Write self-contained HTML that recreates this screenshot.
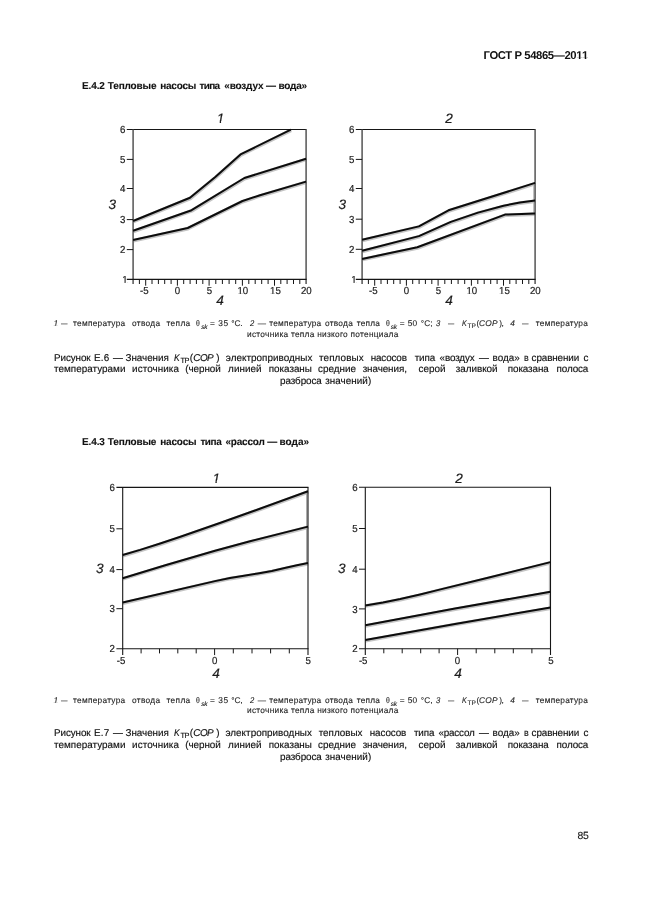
<!DOCTYPE html>
<html lang="ru">
<head>
<meta charset="utf-8">
<title>ГОСТ Р 54865—2011</title>
<style>
html,body{margin:0;padding:0;background:#fff;}
body{width:646px;height:913px;position:relative;overflow:hidden;font-family:"Liberation Sans",Arial,sans-serif;color:#1c1c1c;text-rendering:geometricPrecision;}
.ln{position:absolute;left:0;width:646px;margin:0;white-space:pre;}
.ln span{display:inline-block;white-space:pre;vertical-align:baseline;}
.hdr{font-weight:bold;font-size:11.3px;line-height:13px;height:13px;color:#111;}
.h2{font-weight:bold;font-size:10.0px;line-height:12px;height:12px;color:#111;-webkit-text-stroke:0.1px #111;}
.leg{font-size:8.3px;line-height:10.5px;height:10.5px;color:#222;-webkit-text-stroke:0.1px #222;}
.cap{font-size:9.9px;line-height:11.5px;height:11.5px;color:#111;-webkit-text-stroke:0.15px #111;}
.pn{font-size:10.4px;line-height:12px;height:12px;color:#1a1a1a;-webkit-text-stroke:0.12px #1a1a1a;}
.i{font-style:italic;}
.d{color:#6a6a6a;-webkit-text-stroke-color:#6a6a6a;}
.ln span.o{display:inline-block;}
svg{position:absolute;left:0;top:0;overflow:visible;}
svg text{font-family:"Liberation Sans",Arial,sans-serif;fill:#1c1c1c;text-rendering:geometricPrecision;}
.tk{font-size:10.2px;stroke:#1c1c1c;stroke-width:0.2px;}
.ax{font-size:13.6px;font-style:italic;stroke:#1c1c1c;stroke-width:0.2px;}
</style>
</head>
<body>
<div class="ln hdr" style="top:50px;"><span style="margin-left:483.60px;letter-spacing:-0.418px;">ГОСТ Р 54865—20<span class="o" style="clip-path:polygon(-1.00px -2.00px,22.60px -2.00px,22.60px 7.80px,4.19px 7.80px,4.19px 20.00px,2.64px 20.00px,2.64px 7.80px,-1.00px 7.80px);">1</span><span class="o" style="clip-path:polygon(-1.00px -2.00px,22.60px -2.00px,22.60px 7.80px,4.19px 7.80px,4.19px 20.00px,2.64px 20.00px,2.64px 7.80px,-1.00px 7.80px);">1</span></span></div>
<div class="ln h2" style="top:81px;"><span style="margin-left:82.00px;width:25.80px;letter-spacing:-0.112px;">Е.4.2 </span><span style="width:52.40px;letter-spacing:-0.156px;">Тепловые </span><span style="width:39.30px;letter-spacing:-0.228px;">насосы </span><span style="width:24.80px;letter-spacing:-0.670px;">типа </span><span style="width:41.80px;letter-spacing:-0.173px;">«воздух </span><span style="width:12.40px;">— </span><span style="letter-spacing:-0.191px;">вода»</span></div>
<div class="ln leg" style="top:318px;"><span class="i" style="margin-left:53.43px;width:7.97px;clip-path:polygon(-1.00px -2.00px,16.60px -2.00px,16.60px 7.34px,2.47px 7.34px,2.49px 20.00px,1.58px 20.00px,1.84px 7.34px,-1.00px 7.34px);">1 </span><span class="d" style="width:11.70px;transform:scaleX(0.783);transform-origin:0 0;">— </span><span style="width:59.00px;letter-spacing:0.272px;">температура </span><span style="width:34.50px;letter-spacing:0.310px;">отвода </span><span style="width:29.60px;letter-spacing:0.330px;">тепла </span><span style="width:5.00px;transform:scaleX(0.823);transform-origin:0 0;">θ</span><span class="i" style="width:6.60px;position:relative;top:3px;font-size:6.6px;letter-spacing:-0.277px;">sk</span><span style="width:10.50px;"> = </span><span style="width:13.00px;letter-spacing:0.566px;">35 </span><span style="width:18.55px;letter-spacing:-0.110px;">°С. </span><span class="i" style="width:7.95px;transform:scaleX(0.922);transform-origin:0 0;">2 </span><span class="d" style="width:11.50px;">— </span><span style="width:55.70px;letter-spacing:0.262px;">температура </span><span style="width:31.80px;letter-spacing:0.290px;">отвода </span><span style="width:29.00px;letter-spacing:0.230px;">тепла </span><span style="width:5.00px;transform:scaleX(0.823);transform-origin:0 0;">θ</span><span class="i" style="width:6.80px;position:relative;top:3px;font-size:6.6px;letter-spacing:-0.277px;">sk</span><span style="width:10.20px;"> = </span><span style="width:13.00px;letter-spacing:0.266px;">50 </span><span style="width:15.60px;letter-spacing:0.140px;">°С; </span><span class="i" style="width:11.50px;transform:scaleX(0.932);transform-origin:0 0;">3 </span><span class="d" style="width:14.30px;transform:scaleX(0.747);transform-origin:0 0;">— </span><span class="i" style="width:5.40px;transform:scaleX(0.856);transform-origin:0 0;">K</span><span style="width:8.90px;position:relative;top:2px;font-size:6.5px;letter-spacing:0.093px;">ТР</span><span style="width:2.70px;">(</span><span class="i" style="width:20.20px;letter-spacing:0.207px;">COP</span><span style="width:11.00px;letter-spacing:-0.471px;">), </span><span class="i" style="width:11.50px;">4 </span><span class="d" style="width:14.10px;transform:scaleX(0.783);transform-origin:0 0;">— </span><span style="letter-spacing:0.262px;">температура</span></div>
<div class="ln leg" style="top:329px;"><span style="margin-left:247.00px;letter-spacing:0.278px;">источника тепла низкого потенциала</span></div>
<div class="ln cap" style="top:353px;"><span style="margin-left:54.00px;width:39.90px;letter-spacing:-0.098px;">Рисунок </span><span style="width:19.10px;letter-spacing:0.320px;">Е.6 </span><span style="width:12.60px;">— </span><span style="width:48.60px;letter-spacing:-0.065px;">Значения </span><span class="i" style="width:6.30px;transform:scaleX(0.861);transform-origin:0 0;">K</span><span style="width:9.30px;position:relative;top:2px;font-size:7.4px;letter-spacing:-0.400px;">ТР</span><span style="width:3.60px;">(</span><span class="i" style="width:22.80px;letter-spacing:-0.527px;">COP</span><span style="width:9.70px;">) </span><span style="width:93.20px;letter-spacing:0.030px;">электроприводных </span><span style="width:51.60px;letter-spacing:0.099px;">тепловых </span><span style="width:44.00px;letter-spacing:-0.161px;">насосов </span><span style="width:24.90px;letter-spacing:-0.111px;">типа </span><span style="width:39.40px;letter-spacing:-0.124px;">«воздух </span><span style="width:13.70px;">— </span><span style="width:31.00px;letter-spacing:-0.031px;">вода» </span><span style="width:8.00px;transform:scaleX(0.893);transform-origin:0 0;">в </span><span style="width:52.00px;letter-spacing:-0.128px;">сравнении </span><span style="">с</span></div>
<div class="ln cap" style="top:364px;"><span style="margin-left:54.10px;width:78.00px;letter-spacing:0.022px;">температурами </span><span style="width:53.20px;letter-spacing:0.074px;">источника </span><span style="width:42.80px;letter-spacing:-0.062px;">(черной </span><span style="width:40.70px;letter-spacing:0.052px;">линией </span><span style="width:49.20px;letter-spacing:-0.034px;">показаны </span><span style="width:44.70px;letter-spacing:0.029px;">средние </span><span style="width:55.90px;letter-spacing:-0.084px;">значения, </span><span style="width:37.30px;letter-spacing:0.026px;">серой </span><span style="width:51.90px;letter-spacing:-0.041px;">заливкой </span><span style="width:48.80px;letter-spacing:-0.090px;">показана </span><span style="letter-spacing:-0.120px;">полоса</span></div>
<div class="ln cap" style="top:376px;"><span style="margin-left:280.10px;width:45.20px;letter-spacing:-0.096px;">разброса </span><span style="letter-spacing:0.027px;">значений)</span></div>
<div class="ln h2" style="top:437px;"><span style="margin-left:82.00px;width:25.80px;letter-spacing:-0.112px;">Е.4.3 </span><span style="width:52.40px;letter-spacing:-0.170px;">Тепловые </span><span style="width:40.20px;letter-spacing:-0.168px;">насосы </span><span style="width:25.00px;letter-spacing:-0.437px;">типа </span><span style="width:41.80px;letter-spacing:-0.194px;">«рассол </span><span style="width:12.40px;">— </span><span style="letter-spacing:0.034px;">вода»</span></div>
<div class="ln leg" style="top:695px;"><span class="i" style="margin-left:53.43px;width:7.97px;clip-path:polygon(-1.00px -2.00px,16.60px -2.00px,16.60px 7.34px,2.47px 7.34px,2.49px 20.00px,1.58px 20.00px,1.84px 7.34px,-1.00px 7.34px);">1 </span><span class="d" style="width:11.70px;transform:scaleX(0.783);transform-origin:0 0;">— </span><span style="width:59.00px;letter-spacing:0.272px;">температура </span><span style="width:34.50px;letter-spacing:0.310px;">отвода </span><span style="width:29.60px;letter-spacing:0.330px;">тепла </span><span style="width:5.00px;transform:scaleX(0.823);transform-origin:0 0;">θ</span><span class="i" style="width:6.60px;position:relative;top:3px;font-size:6.6px;letter-spacing:-0.277px;">sk</span><span style="width:10.50px;"> = </span><span style="width:13.00px;letter-spacing:0.566px;">35 </span><span style="width:18.55px;letter-spacing:-0.110px;">°С, </span><span class="i" style="width:7.95px;transform:scaleX(0.922);transform-origin:0 0;">2 </span><span class="d" style="width:11.50px;">— </span><span style="width:55.70px;letter-spacing:0.262px;">температура </span><span style="width:31.80px;letter-spacing:0.290px;">отвода </span><span style="width:29.00px;letter-spacing:0.230px;">тепла </span><span style="width:5.00px;transform:scaleX(0.823);transform-origin:0 0;">θ</span><span class="i" style="width:6.80px;position:relative;top:3px;font-size:6.6px;letter-spacing:-0.277px;">sk</span><span style="width:10.20px;"> = </span><span style="width:13.00px;letter-spacing:0.266px;">50 </span><span style="width:15.60px;letter-spacing:0.140px;">°С, </span><span class="i" style="width:11.50px;transform:scaleX(0.932);transform-origin:0 0;">3 </span><span class="d" style="width:14.30px;transform:scaleX(0.747);transform-origin:0 0;">— </span><span class="i" style="width:5.40px;transform:scaleX(0.856);transform-origin:0 0;">K</span><span style="width:8.90px;position:relative;top:2px;font-size:6.5px;letter-spacing:0.093px;">ТР</span><span style="width:2.70px;">(</span><span class="i" style="width:20.20px;letter-spacing:0.207px;">COP</span><span style="width:11.00px;letter-spacing:-0.471px;">), </span><span class="i" style="width:11.50px;">4 </span><span class="d" style="width:14.10px;transform:scaleX(0.783);transform-origin:0 0;">— </span><span style="letter-spacing:0.262px;">температура</span></div>
<div class="ln leg" style="top:705px;"><span style="margin-left:247.00px;letter-spacing:0.278px;">источника тепла низкого потенциала</span></div>
<div class="ln cap" style="top:728px;"><span style="margin-left:54.00px;width:39.90px;letter-spacing:-0.098px;">Рисунок </span><span style="width:19.10px;letter-spacing:0.320px;">Е.7 </span><span style="width:12.60px;">— </span><span style="width:48.60px;letter-spacing:-0.065px;">Значения </span><span class="i" style="width:6.30px;transform:scaleX(0.861);transform-origin:0 0;">K</span><span style="width:9.30px;position:relative;top:2px;font-size:7.4px;letter-spacing:-0.400px;">ТР</span><span style="width:3.60px;">(</span><span class="i" style="width:22.80px;letter-spacing:-0.527px;">COP</span><span style="width:9.30px;">) </span><span style="width:93.20px;letter-spacing:0.030px;">электроприводных </span><span style="width:51.10px;">тепловых </span><span style="width:44.20px;letter-spacing:-0.111px;">насосов </span><span style="width:24.50px;letter-spacing:-0.111px;">типа </span><span style="width:40.50px;letter-spacing:-0.199px;">«рассол </span><span style="width:13.70px;">— </span><span style="width:31.00px;letter-spacing:-0.031px;">вода» </span><span style="width:8.00px;transform:scaleX(0.893);transform-origin:0 0;">в </span><span style="width:52.00px;letter-spacing:-0.128px;">сравнении </span><span style="">с</span></div>
<div class="ln cap" style="top:740px;"><span style="margin-left:54.10px;width:78.00px;letter-spacing:0.022px;">температурами </span><span style="width:53.20px;letter-spacing:0.074px;">источника </span><span style="width:42.80px;letter-spacing:-0.062px;">(черной </span><span style="width:40.70px;letter-spacing:0.052px;">линией </span><span style="width:49.20px;letter-spacing:-0.034px;">показаны </span><span style="width:44.70px;letter-spacing:0.029px;">средние </span><span style="width:55.90px;letter-spacing:-0.084px;">значения, </span><span style="width:37.30px;letter-spacing:0.026px;">серой </span><span style="width:51.90px;letter-spacing:-0.041px;">заливкой </span><span style="width:48.80px;letter-spacing:-0.090px;">показана </span><span style="letter-spacing:-0.120px;">полоса</span></div>
<div class="ln cap" style="top:752px;"><span style="margin-left:280.10px;width:45.20px;letter-spacing:-0.096px;">разброса </span><span style="letter-spacing:0.027px;">значений)</span></div>
<div class="ln pn" style="top:831px;"><span style="margin-left:577.60px;letter-spacing:-0.270px;">85</span></div>
<svg id="charts" width="646" height="913" viewBox="0 0 646 913">
<defs><clipPath id="c1i" clipPathUnits="userSpaceOnUse"><polygon points="-2.0,-27.2 54.4,-27.2 54.4,13.6 7.6,13.6 7.6,-1.4 4.3,-1.4 4.2,13.6 2.4,13.6 3.0,-1.4 -2.0,-1.4"/></clipPath><clipPath id="c1r" clipPathUnits="userSpaceOnUse"><polygon points="-2.0,-20.4 40.8,-20.4 40.8,10.2 5.7,10.2 5.7,-1.1 3.6,-1.1 3.6,10.2 2.4,10.2 2.4,-1.1 -2.0,-1.1"/></clipPath></defs>
<polyline points="133.3,221.7 190.2,198.5 215.5,177.6 240.7,155.1 291.1,130.3" fill="none" stroke="#c4c4c4" stroke-width="3.6" stroke-linejoin="round"/>
<polyline points="133.3,231.5 191.8,210.9 244.6,178.7 306.3,159.4" fill="none" stroke="#c4c4c4" stroke-width="3.6" stroke-linejoin="round"/>
<polyline points="133.3,240.8 187.9,228.7 242.7,201.7 260.2,195.9 306.3,182.3" fill="none" stroke="#c4c4c4" stroke-width="3.6" stroke-linejoin="round"/>

<path d="M126.8 129.5H306.6" stroke="#161616" stroke-width="1.1" fill="none"/>
<path d="M133.1 129.5V284.0M306.1 129.5V284.0" stroke="#555" stroke-width="1.5" fill="none"/>
<path d="M126.8 279.4H306.6" stroke="#161616" stroke-width="1.1" fill="none"/>
<path d="M126.8 249.6H133.1M126.8 219.6H133.1M126.8 188.5H133.1M126.8 159.4H133.1" stroke="#161616" stroke-width="1" fill="none"/>
<text class="tk" transform="translate(122.21,283.0) scale(0.95,1)" clip-path="url(#c1r)">1</text>
<text class="tk" transform="translate(119.91,253.2) scale(0.95,1)">2</text>
<text class="tk" transform="translate(119.91,223.2) scale(0.95,1)">3</text>
<text class="tk" transform="translate(119.91,192.1) scale(0.95,1)">4</text>
<text class="tk" transform="translate(119.91,163.0) scale(0.95,1)">5</text>
<text class="tk" transform="translate(119.91,133.1) scale(0.95,1)">6</text>
<path d="M139.4 279.4v4.6M145.7 279.4v6.3M152.0 279.4v4.6M158.4 279.4v4.6M164.7 279.4v4.6M171.1 279.4v4.6M177.4 279.4v6.3M183.7 279.4v4.6M190.1 279.4v4.6M196.4 279.4v4.6M202.8 279.4v4.6M209.1 279.4v6.3M215.8 279.4v4.6M222.4 279.4v4.6M229.1 279.4v4.6M235.7 279.4v4.6M242.4 279.4v6.3M248.8 279.4v4.6M255.2 279.4v4.6M261.7 279.4v4.6M268.1 279.4v4.6M274.5 279.4v6.3M280.8 279.4v4.6M287.1 279.4v4.6M293.5 279.4v4.6M299.8 279.4v4.6" stroke="#161616" stroke-width="1" fill="none"/>
<text class="tk" transform="translate(139.99,294.3) scale(0.95,1)">-5</text>
<text class="tk" transform="translate(174.81,294.3) scale(0.95,1)">0</text>
<text class="tk" transform="translate(206.81,294.3) scale(0.95,1)">5</text>
<text class="tk" transform="translate(237.41,294.3) scale(0.95,1)" clip-path="url(#c1r)">10</text>
<text class="tk" transform="translate(270.01,294.3) scale(0.95,1)" clip-path="url(#c1r)">15</text>
<text class="tk" transform="translate(300.91,294.3) scale(0.95,1)">20</text>
<polyline points="133.1,221.0 190.0,197.8 215.3,176.9 240.5,154.4 290.9,129.6" fill="none" stroke="#0c0c0c" stroke-width="2" stroke-linejoin="round"/>
<polyline points="133.1,230.8 191.6,210.2 244.4,178.0 306.1,158.7" fill="none" stroke="#0c0c0c" stroke-width="2" stroke-linejoin="round"/>
<polyline points="133.1,240.1 187.7,228.0 242.5,201.0 260.0,195.2 306.1,181.6" fill="none" stroke="#0c0c0c" stroke-width="2" stroke-linejoin="round"/>
<text class="ax" transform="translate(216.76,123.0)" clip-path="url(#c1i)">1</text>
<text class="ax" transform="translate(108.62,209.2)">3</text>
<text class="ax" transform="translate(216.32,305.0)">4</text>
<polyline points="362.3,240.5 419.1,227.1 448.7,211.0 535.3,183.6" fill="none" stroke="#c4c4c4" stroke-width="3.6" stroke-linejoin="round"/>
<polyline points="362.3,251.4 419.1,236.8 451.0,222.6 478.2,213.3 503.7,206.4 520.2,203.1 535.3,201.3" fill="none" stroke="#c4c4c4" stroke-width="3.6" stroke-linejoin="round"/>
<polyline points="362.3,259.6 417.5,248.0 505.2,215.3 535.3,214.1" fill="none" stroke="#c4c4c4" stroke-width="3.6" stroke-linejoin="round"/>
<path d="M533.8 184V213" stroke="#bbb" stroke-width="1.4"/>
<path d="M355.8 129.5H535.6" stroke="#161616" stroke-width="1.1" fill="none"/>
<path d="M362.1 129.5V284.0M535.1 129.5V284.0" stroke="#555" stroke-width="1.5" fill="none"/>
<path d="M355.8 279.4H535.6" stroke="#161616" stroke-width="1.1" fill="none"/>
<path d="M355.8 249.3H362.1M355.8 219.2H362.1M355.8 188.5H362.1M355.8 159.4H362.1" stroke="#161616" stroke-width="1" fill="none"/>
<text class="tk" transform="translate(351.21,283.0) scale(0.95,1)" clip-path="url(#c1r)">1</text>
<text class="tk" transform="translate(348.91,252.9) scale(0.95,1)">2</text>
<text class="tk" transform="translate(348.91,222.8) scale(0.95,1)">3</text>
<text class="tk" transform="translate(348.91,192.1) scale(0.95,1)">4</text>
<text class="tk" transform="translate(348.91,163.0) scale(0.95,1)">5</text>
<text class="tk" transform="translate(348.91,133.1) scale(0.95,1)">6</text>
<path d="M368.4 279.4v4.6M374.7 279.4v6.3M381.0 279.4v4.6M387.4 279.4v4.6M393.7 279.4v4.6M400.1 279.4v4.6M406.4 279.4v6.3M412.7 279.4v4.6M419.1 279.4v4.6M425.4 279.4v4.6M431.8 279.4v4.6M438.1 279.4v6.3M444.8 279.4v4.6M451.4 279.4v4.6M458.1 279.4v4.6M464.7 279.4v4.6M471.4 279.4v6.3M477.8 279.4v4.6M484.2 279.4v4.6M490.7 279.4v4.6M497.1 279.4v4.6M503.5 279.4v6.3M509.8 279.4v4.6M516.1 279.4v4.6M522.5 279.4v4.6M528.8 279.4v4.6" stroke="#161616" stroke-width="1" fill="none"/>
<text class="tk" transform="translate(368.99,294.3) scale(0.95,1)">-5</text>
<text class="tk" transform="translate(403.81,294.3) scale(0.95,1)">0</text>
<text class="tk" transform="translate(435.81,294.3) scale(0.95,1)">5</text>
<text class="tk" transform="translate(466.41,294.3) scale(0.95,1)" clip-path="url(#c1r)">10</text>
<text class="tk" transform="translate(499.01,294.3) scale(0.95,1)" clip-path="url(#c1r)">15</text>
<text class="tk" transform="translate(529.91,294.3) scale(0.95,1)">20</text>
<polyline points="362.1,239.8 418.9,226.4 448.5,210.3 535.1,182.9" fill="none" stroke="#0c0c0c" stroke-width="2" stroke-linejoin="round"/>
<polyline points="362.1,250.7 418.9,236.1 450.8,221.9 478.0,212.6 503.5,205.7 520.0,202.4 535.1,200.6" fill="none" stroke="#0c0c0c" stroke-width="2" stroke-linejoin="round"/>
<polyline points="362.1,258.9 417.3,247.3 505.0,214.6 535.1,213.4" fill="none" stroke="#0c0c0c" stroke-width="2" stroke-linejoin="round"/>
<text class="ax" transform="translate(445.26,123.0)">2</text>
<text class="ax" transform="translate(338.62,209.2)">3</text>
<text class="ax" transform="translate(445.22,305.0)">4</text>
<polyline points="122.9,555.7 140.3,550.6 160.4,544.2 180.6,537.5 200.7,530.5 220.8,523.4 250.2,513.0 308.2,492.0" fill="none" stroke="#c4c4c4" stroke-width="3.6" stroke-linejoin="round"/>
<polyline points="122.9,578.9 165.5,565.9 215.2,551.5 250.2,542.0 308.2,527.3" fill="none" stroke="#c4c4c4" stroke-width="3.6" stroke-linejoin="round"/>
<polyline points="122.9,603.2 215.2,581.8 230.2,578.6 244.1,576.5 258.1,574.1 272.0,571.6 285.9,568.5 297.1,566.0 308.2,563.8" fill="none" stroke="#c4c4c4" stroke-width="3.6" stroke-linejoin="round"/>
<path d="M306.8 491V563.5" stroke="#a4a4a4" stroke-width="1.4"/>
<path d="M116.4 487.4H308.5" stroke="#161616" stroke-width="1.1" fill="none"/>
<path d="M122.7 487.4V655.1M308.0 487.4V655.1" stroke="#161616" stroke-width="1.1" fill="none"/>
<path d="M116.4 648.8H308.5" stroke="#161616" stroke-width="1.1" fill="none"/>
<path d="M116.4 608.7H122.7M116.4 569.6H122.7M116.4 528.8H122.7" stroke="#161616" stroke-width="1" fill="none"/>
<text class="tk" transform="translate(109.61,652.4) scale(0.95,1)">2</text>
<text class="tk" transform="translate(109.61,612.3) scale(0.95,1)">3</text>
<text class="tk" transform="translate(109.61,573.2) scale(0.95,1)">4</text>
<text class="tk" transform="translate(109.61,532.4) scale(0.95,1)">5</text>
<text class="tk" transform="translate(109.61,491.0) scale(0.95,1)">6</text>
<path d="M141.1 648.8v4.6M159.5 648.8v4.6M177.8 648.8v4.6M196.2 648.8v4.6M214.6 648.8v6.3M233.3 648.8v4.6M252.0 648.8v4.6M270.6 648.8v4.6M289.3 648.8v4.6" stroke="#161616" stroke-width="1" fill="none"/>
<text class="tk" transform="translate(116.69,663.9) scale(0.95,1)">-5</text>
<text class="tk" transform="translate(212.11,663.9) scale(0.95,1)">0</text>
<text class="tk" transform="translate(305.61,663.9) scale(0.95,1)">5</text>
<polyline points="122.7,555.0 140.1,549.9 160.2,543.5 180.4,536.8 200.5,529.8 220.6,522.7 250.0,512.3 308.0,491.3" fill="none" stroke="#0c0c0c" stroke-width="2" stroke-linejoin="round"/>
<polyline points="122.7,578.2 165.3,565.2 215.0,550.8 250.0,541.3 308.0,526.6" fill="none" stroke="#0c0c0c" stroke-width="2" stroke-linejoin="round"/>
<polyline points="122.7,602.5 215.0,581.1 230.0,577.9 243.9,575.8 257.9,573.4 271.8,570.9 285.7,567.8 296.9,565.3 308.0,563.1" fill="none" stroke="#0c0c0c" stroke-width="2" stroke-linejoin="round"/>
<text class="ax" transform="translate(212.46,483.0)" clip-path="url(#c1i)">1</text>
<text class="ax" transform="translate(96.12,573.0)">3</text>
<text class="ax" transform="translate(212.32,678.0)">4</text>
<polyline points="365.5,606.1 383.2,603.1 400.4,599.7 420.2,595.2 440.7,590.1 490.2,578.0 550.7,562.8" fill="none" stroke="#c4c4c4" stroke-width="3.6" stroke-linejoin="round"/>
<polyline points="365.5,625.9 455.2,609.2 550.7,592.5" fill="none" stroke="#c4c4c4" stroke-width="3.6" stroke-linejoin="round"/>
<polyline points="365.5,640.8 455.2,624.6 550.7,608.3" fill="none" stroke="#c4c4c4" stroke-width="3.6" stroke-linejoin="round"/>
<path d="M549.5 563V607" stroke="#bbb" stroke-width="1.3"/>
<path d="M359.0 487.3H551.0" stroke="#161616" stroke-width="1.1" fill="none"/>
<path d="M365.3 487.3V655.0M550.5 487.3V655.0" stroke="#161616" stroke-width="1.1" fill="none"/>
<path d="M359.0 648.7H551.0" stroke="#161616" stroke-width="1.1" fill="none"/>
<path d="M359.0 608.9H365.3M359.0 569.2H365.3M359.0 528.5H365.3" stroke="#161616" stroke-width="1" fill="none"/>
<text class="tk" transform="translate(352.31,652.3) scale(0.95,1)">2</text>
<text class="tk" transform="translate(352.31,612.5) scale(0.95,1)">3</text>
<text class="tk" transform="translate(352.31,572.8) scale(0.95,1)">4</text>
<text class="tk" transform="translate(352.31,532.1) scale(0.95,1)">5</text>
<text class="tk" transform="translate(352.31,490.9) scale(0.95,1)">6</text>
<path d="M383.8 648.7v4.6M402.2 648.7v4.6M420.7 648.7v4.6M439.1 648.7v4.6M457.6 648.7v6.3M476.2 648.7v4.6M494.8 648.7v4.6M513.3 648.7v4.6M531.9 648.7v4.6" stroke="#161616" stroke-width="1" fill="none"/>
<text class="tk" transform="translate(358.89,663.9) scale(0.95,1)">-5</text>
<text class="tk" transform="translate(454.71,663.9) scale(0.95,1)">0</text>
<text class="tk" transform="translate(548.21,663.9) scale(0.95,1)">5</text>
<polyline points="365.3,605.4 383.0,602.4 400.2,599.0 420.0,594.5 440.5,589.4 490.0,577.3 550.5,562.1" fill="none" stroke="#0c0c0c" stroke-width="2" stroke-linejoin="round"/>
<polyline points="365.3,625.2 455.0,608.5 550.5,591.8" fill="none" stroke="#0c0c0c" stroke-width="2" stroke-linejoin="round"/>
<polyline points="365.3,640.1 455.0,623.9 550.5,607.6" fill="none" stroke="#0c0c0c" stroke-width="2" stroke-linejoin="round"/>
<text class="ax" transform="translate(455.16,483.0)">2</text>
<text class="ax" transform="translate(338.12,573.0)">3</text>
<text class="ax" transform="translate(454.32,678.0)">4</text>
</svg>
</body>
</html>
